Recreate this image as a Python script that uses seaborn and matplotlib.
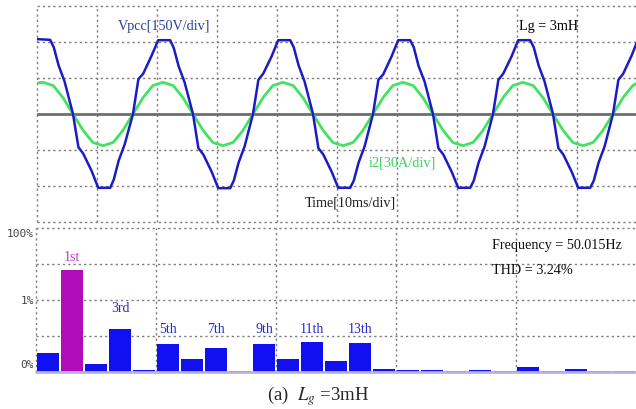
"""
并网逆变器 Lg = 3mH 实验波形与谐波频谱
"""
import numpy as np
import pandas as pd
import matplotlib
matplotlib.use("Agg")
import matplotlib.pyplot as plt
import seaborn as sns

# --- 波形数据 (单位: 格, 时间 10ms/div) ---
vpcc_t = [
    0.00, 0.22, 0.28, 0.36, 0.46, 0.60, 0.69, 0.77, 0.91, 1.02, 1.22, 1.28, 1.36, 1.46, 1.60, 1.69, 1.77, 1.91,
    2.02, 2.22, 2.28, 2.36, 2.46, 2.60, 2.69, 2.77, 2.91, 3.02, 3.22, 3.28, 3.36, 3.46, 3.60, 3.69, 3.77, 3.91,
    4.02, 4.22, 4.28, 4.36, 4.46, 4.60, 4.69, 4.77, 4.91, 5.02, 5.22, 5.28, 5.36, 5.46, 5.60, 5.69, 5.77, 5.91,
    6.02, 6.22, 6.28, 6.36, 6.46, 6.60, 6.69, 6.77, 6.91, 7.02, 7.22, 7.28, 7.36, 7.46, 7.60, 7.69, 7.77, 7.91,
    8.02, 8.22, 8.28, 8.36, 8.46, 8.60, 8.69, 8.77, 8.91, 9.02, 9.22, 9.28, 9.36, 9.46, 9.60, 9.69, 9.77, 9.91,
    10.00,
]
vpcc_v = [
    2.08, 2.06, 1.85, 1.35, 0.90, 0.00, -0.92, -1.10, -1.58, -2.05, -2.05, -1.82, -1.30, -0.85, 0.00, 0.97, 1.12, 1.62,
    2.05, 2.05, 1.83, 1.33, 0.88, 0.00, -0.95, -1.12, -1.60, -2.06, -2.06, -1.85, -1.35, -0.90, 0.00, 0.95, 1.12, 1.60,
    2.05, 2.05, 1.85, 1.35, 0.90, 0.00, -0.95, -1.12, -1.60, -2.05, -2.05, -1.85, -1.35, -0.90, 0.00, 0.95, 1.10, 1.60,
    2.05, 2.05, 1.85, 1.33, 0.90, 0.00, -0.95, -1.12, -1.60, -2.05, -2.05, -1.85, -1.35, -0.90, 0.00, 0.95, 1.12, 1.60,
    2.05, 2.05, 1.85, 1.35, 0.90, 0.00, -0.95, -1.12, -1.60, -2.05, -2.05, -1.85, -1.35, -0.90, 0.00, 0.95, 1.12, 1.62,
    2.00,
]
i2_t = [
    0.00, 0.10, 0.27, 0.43, 0.60, 0.77, 0.93, 1.10, 1.27, 1.43, 1.60, 1.77, 1.93,
    2.10, 2.27, 2.43, 2.60, 2.77, 2.93, 3.10, 3.27, 3.43, 3.60, 3.77, 3.93,
    4.10, 4.27, 4.43, 4.60, 4.77, 4.93, 5.10, 5.27, 5.43, 5.60, 5.77, 5.93,
    6.10, 6.27, 6.43, 6.60, 6.77, 6.93, 7.10, 7.27, 7.43, 7.60, 7.77, 7.93,
    8.10, 8.27, 8.43, 8.60, 8.77, 8.93, 9.10, 9.27, 9.43, 9.60, 9.77, 9.93,
    10.00,
]
i2_v = [
    0.86, 0.88, 0.79, 0.46, 0.00, -0.46, -0.79, -0.88, -0.79, -0.46, 0.00, 0.46, 0.79,
    0.88, 0.79, 0.46, 0.00, -0.46, -0.79, -0.88, -0.79, -0.46, 0.00, 0.46, 0.79,
    0.88, 0.79, 0.46, 0.00, -0.46, -0.79, -0.88, -0.79, -0.46, 0.00, 0.46, 0.79,
    0.88, 0.79, 0.46, 0.00, -0.46, -0.79, -0.88, -0.79, -0.46, 0.00, 0.46, 0.79,
    0.88, 0.79, 0.46, 0.00, -0.46, -0.79, -0.88, -0.79, -0.46, 0.00, 0.46, 0.79,
    0.86,
]

# --- 谐波频谱 (0 ~ 24 次, 单位: 格) ---
harm_order = list(range(25))
harm_height = [0.53, 2.82, 0.22, 1.19, 0.06, 0.77, 0.36, 0.67, 0.03, 0.77,
               0.36, 0.83, 0.30, 0.80, 0.09, 0.06, 0.06, 0.03, 0.06, 0.03,
               0.13, 0.03, 0.09, 0.03, 0.03]
harm_names = {1: '1st', 3: '3rd', 5: '5th', 7: '7th', 9: '9th', 11: '11th', 13: '13th'}
pct_labels = ['0%', '1%', '100%']

# --- 样式 ---
sns.set_style("white")
plt.rcParams['font.family'] = ['Liberation Serif', 'DejaVu Serif']
plt.rcParams['mathtext.fontset'] = 'stix'

BLUE_WAVE = '#1c1cc4'
GREEN_WAVE = '#44e262'
BAR_BLUE = '#1010f2'
BAR_MAG = '#b00cb8'
GRID = dict(color='#7c7c7c', lw=1.0, ls=(0, (1.6, 2.2)))

fig = plt.figure(figsize=(6.36, 4.10), dpi=100)
ax_w = fig.add_axes([37 / 636, (410 - 223) / 410, 599 / 636, 216 / 410])
ax_h = fig.add_axes([36 / 636, (410 - 373) / 410, 600 / 636, 144 / 410])

# ---------- 上半部分: 波形 ----------
sns.lineplot(x=i2_t, y=i2_v, ax=ax_w, sort=False, estimator=None,
             color=GREEN_WAVE, lw=2.0, zorder=3)
sns.lineplot(x=vpcc_t, y=vpcc_v, ax=ax_w, sort=False, estimator=None,
             color=BLUE_WAVE, lw=1.8, zorder=4)
ax_w.axhline(0, color='#6e6e6e', lw=2.0, zorder=2)
ax_w.set_xlim(0, 599 / 60)
ax_w.set_ylim(-3, 3)
for x in range(10):
    ax_w.axvline(x, zorder=1, clip_on=False, **GRID)
for y in [-3, -2, -1, 1, 2, 3]:
    ax_w.axhline(y, zorder=1, clip_on=False, **GRID)
ax_w.set_xticks([])
ax_w.set_yticks([])
for s in ax_w.spines.values():
    s.set_visible(False)

ax_w.text(1.35, 2.45, 'Vpcc[150V/div]', color='#2e3f9c', fontsize=10.2, va='center')
ax_w.text(8.03, 2.45, 'Lg = 3mH', color='black', fontsize=10.2, va='center')
ax_w.text(5.53, -1.33, 'i2[30A/div]', color='#3fcf5a', fontsize=10.3, va='center')
ax_w.text(4.47, -2.45, 'Time[10ms/div]', color='#222222', fontsize=10.2, va='center')

# ---------- 下半部分: 谐波柱状图 ----------
df = pd.DataFrame({'order': [str(o) for o in harm_order], 'height': harm_height})
palette = {str(o): (BAR_MAG if o == 1 else BAR_BLUE) for o in harm_order}
sns.barplot(data=df, x='order', y='height', hue='order', palette=palette,
            legend=False, width=0.92, saturation=1, edgecolor='none', ax=ax_h, zorder=3)
ax_h.axhline(0, color='#b4b4e8', lw=2.0, zorder=4, clip_on=False)
ax_h.set_xlim(-0.5, 24.5)
ax_h.set_ylim(0, 4)
for x in [-0.5, 4.5, 9.5, 14.5, 19.5]:
    ax_h.axvline(x, zorder=1, clip_on=False, **GRID)
for y in [1, 2, 3, 4]:
    ax_h.axhline(y, zorder=1, clip_on=False, **GRID)
ax_h.set_xticks([])
ax_h.set_yticks([])
ax_h.set_xlabel('')
ax_h.set_ylabel('')
for s in ax_h.spines.values():
    s.set_visible(False)

# 谐波次数标注
label_y = {1: 3.22, 3: 1.8}
for o, name in harm_names.items():
    ax_h.text(o, label_y.get(o, 1.22), name, ha='center', va='center', fontsize=10,
              color='#c03cc8' if o == 1 else '#2a2ad0')

# 百分比刻度
for y, lab, dy in zip([0, 2, 4], pct_labels, [0.22, 0.0, -0.15]):
    ax_h.text(-0.58, y + dy, lab, ha='right', va='center', fontsize=8,
              family='DejaVu Sans Mono', color='#444444')

ax_h.text(18.5, 3.55, 'Frequency = 50.015Hz', fontsize=10.2, color='#111111', va='center')
ax_h.text(18.5, 2.85, 'THD = 3.24%', fontsize=10.2, color='#111111', va='center')

fig.text(0.5, (410 - 396) / 410, r'(a)  $L_g$ =3mH', ha='center', va='center', fontsize=13.5)

fig.savefig('out.png', dpi=100)
